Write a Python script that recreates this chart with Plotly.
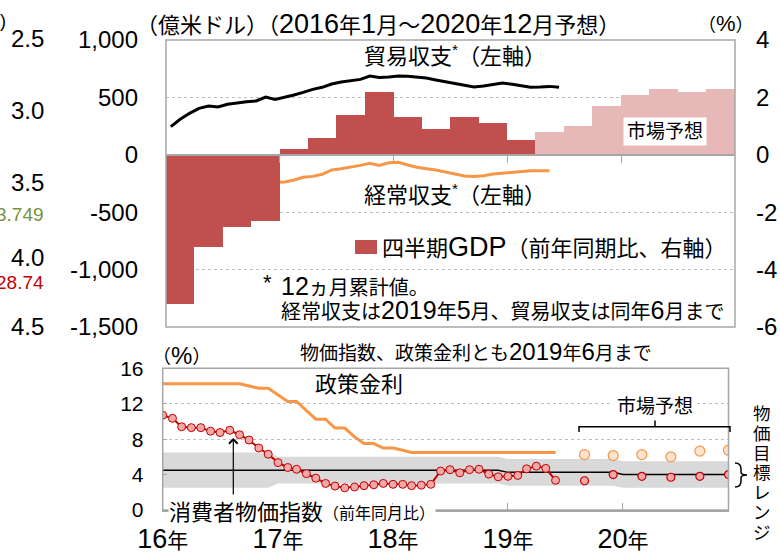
import re
import pandas as pd
import plotly.graph_objects as go

W, H = 780, 556

# ---------------- top panel data ----------------
trade_months = pd.date_range("2016-01-01", "2019-06-01", freq="MS")
trade_balance = [245, 309, 361, 405, 425, 416, 440, 454, 463, 469, 503, 483,
                 501, 521, 544, 570, 588, 617, 634, 646, 657, 686, 674, 677,
                 686, 684, 678, 669, 652, 637, 620, 602, 591, 599, 614, 625,
                 614, 599, 588, 591, 596, 588]
ca_months = pd.date_range("2016-01-01", "2019-05-01", freq="MS")
current_account = [-490, -431, -388, -336, -283, -272, -254, -240, -228, -217, -188, -240,
                   -237, -220, -196, -188, -170, -132, -121, -109, -92, -74, -92, -69,
                   -65, -89, -109, -121, -132, -150, -170, -185, -188, -182, -167, -159,
                   -150, -144, -138, -138, -138]
gdp_q_actual = pd.date_range("2016-01-01", "2019-01-01", freq="QS")
gdp_actual = [-5.2, -3.2, -2.5, -2.3, 0.2, 0.6, 1.4, 2.2, 1.3, 0.9, 1.3, 1.1, 0.5]
gdp_q_fcst = pd.date_range("2019-04-01", "2020-10-01", freq="QS")
gdp_fcst = [0.8, 1.0, 1.7, 2.1, 2.3, 2.2, 2.3]

left_ticks = [1000, 500, 0, -500, -1000, -1500]
left_labels = ["1,000", "500", "0", "-500", "-1,000", "-1,500"]
right_ticks = [4, 2, 0, -2, -4, -6]
right_labels = ["4", "2", "0", "-2", "-4", "-6"]
top_year_ticks = ["2017-01-01", "2018-01-01", "2019-01-01", "2020-01-01"]

# clipped labels of the neighbouring chart (left edge)
side_labels = ["2.5", "3.0", "3.5", "4.0", "4.5"]
side_marks = [("3.749", "#76923c"), ("28.74", "#c00000")]

# ---------------- bottom panel data ----------------
bot_months = pd.date_range("2016-01-01", "2019-06-01", freq="MS")
cpi = [10.7, 10.35, 9.4, 9.3, 9.3, 8.9, 8.75, 9.0, 8.5, 7.9, 7.0, 6.3,
       5.35, 4.8, 4.6, 4.1, 3.6, 3.0, 2.7, 2.5, 2.6, 2.75, 2.85, 3.0,
       2.9, 2.9, 2.75, 2.8, 2.9, 4.4, 4.55, 4.2, 4.55, 4.6, 4.05, 3.75,
       3.8, 3.9, 4.65, 4.95, 4.7, 3.35]
policy_rate = [14.25, 14.25, 14.25, 14.25, 14.25, 14.25, 14.25, 14.25, 14.25, 14.0, 13.75, 13.75,
               13.0, 12.25, 12.25, 11.25, 10.25, 10.25, 9.25, 9.25, 8.25, 7.5, 7.5, 7.0,
               7.0, 6.75, 6.5, 6.5, 6.5, 6.5, 6.5, 6.5, 6.5, 6.5, 6.5, 6.5,
               6.5, 6.5, 6.5, 6.5, 6.5, 6.5]
fcst_dates = ["2019-09-01", "2019-12-01", "2020-03-01", "2020-06-01", "2020-09-01", "2020-12-01"]
cpi_fcst = [3.3, 4.0, 3.8, 3.7, 3.8, 4.0]
rate_fcst = [6.25, 6.15, 6.25, 6.0, 6.65, 6.75]
target_dates = ["2016-01-01", "2016-12-01", "2017-01-01", "2018-12-01",
                "2019-01-01", "2019-12-01", "2020-01-01", "2020-12-01"]
target_upper = [6.5, 6.5, 6.0, 6.0, 5.75, 5.75, 5.5, 5.5]
target_lower = [2.5, 2.5, 3.0, 3.0, 2.75, 2.75, 2.5, 2.5]
target_center = [4.5, 4.5, 4.5, 4.5, 4.25, 4.25, 4.0, 4.0]
bot_year_ticks = ["2016-01-01", "2017-01-01", "2018-01-01", "2019-01-01", "2020-01-01"]
bot_year_nums = ["16", "17", "18", "19", "20"]
bot_y_ticks = [0, 4, 8, 12, 16]

# ---------------- styling ----------------
RED = "#c0504d"
PINK = "#e6b9b8"
ORANGE = "#f79646"
DARKRED = "#c00000"
GRAY = "#a6a6a6"
GRID = "#bfbfbf"
BAND = "#d9d9d9"
LAT = "Liberation Sans, Arial, sans-serif"
JP = "Liberation Sans, Noto Sans CJK JP, sans-serif"


def X(px):
    return px / W


def Y(py):
    return 1 - py / H


def mixed(s, latin):
    return re.sub(r"([0-9A-Za-z%.,]+)",
                  lambda m: f"<span style='font-size:{latin}px'>{m.group(1)}</span>", s)


top_dx = [X(166), X(735)]
top_dy = [Y(327), Y(40)]
bot_dx = [X(162.7), X(728.5)]
bot_dy = [Y(510), Y(368.3)]
left_range = [-1500, 1000]
zero_pos = top_dy[0] + (0 - left_range[0]) / (left_range[1] - left_range[0]) * (top_dy[1] - top_dy[0])

fig = go.Figure()

QUARTER_MS = 91.6 * 24 * 3600 * 1000
fig.add_trace(go.Bar(x=gdp_q_actual, y=gdp_actual, xaxis="x", yaxis="y2",
                     marker=dict(color=RED, line=dict(width=0)),
                     xperiod="M3", xperiodalignment="middle", width=QUARTER_MS))
fig.add_trace(go.Bar(x=gdp_q_fcst, y=gdp_fcst, xaxis="x", yaxis="y2",
                     marker=dict(color=PINK, line=dict(width=0)),
                     xperiod="M3", xperiodalignment="middle", width=QUARTER_MS))
fig.add_trace(go.Scatter(x=trade_months, y=trade_balance, xaxis="x", yaxis="y",
                         mode="lines", line=dict(color="black", width=3),
                         xperiod="M1", xperiodalignment="middle"))
fig.add_trace(go.Scatter(x=ca_months, y=current_account, xaxis="x", yaxis="y",
                         mode="lines", line=dict(color=ORANGE, width=3),
                         xperiod="M1", xperiodalignment="middle"))

# bottom panel
fig.add_trace(go.Scatter(x=target_dates, y=target_lower, xaxis="x2", yaxis="y3",
                         mode="lines", line=dict(width=0), hoverinfo="skip"))
fig.add_trace(go.Scatter(x=target_dates, y=target_upper, xaxis="x2", yaxis="y3",
                         mode="lines", line=dict(width=0), fill="tonexty",
                         fillcolor=BAND, hoverinfo="skip"))
fig.add_trace(go.Scatter(x=target_dates, y=target_center, xaxis="x2", yaxis="y3",
                         mode="lines", line=dict(color="black", width=1.5)))
fig.add_trace(go.Scatter(x=bot_months, y=policy_rate, xaxis="x2", yaxis="y3",
                         mode="lines", line=dict(color=ORANGE, width=3)))
fig.add_trace(go.Scatter(x=bot_months, y=cpi, xaxis="x2", yaxis="y3",
                         mode="lines+markers", line=dict(color=DARKRED, width=2),
                         marker=dict(size=8, color="#f4a7a7",
                                     line=dict(color=DARKRED, width=1))))
fig.add_trace(go.Scatter(x=fcst_dates, y=rate_fcst, xaxis="x2", yaxis="y3",
                         mode="markers",
                         marker=dict(size=10, color="#fde4cf",
                                     line=dict(color=ORANGE, width=1.2))))
fig.add_trace(go.Scatter(x=fcst_dates, y=cpi_fcst, xaxis="x2", yaxis="y3",
                         mode="markers",
                         marker=dict(size=8, color="#f4a7a7",
                                     line=dict(color=DARKRED, width=1.2))))

ann = []


def txt(s, x, y, size, color="black", xanchor="left", font=JP, bg=None, pad=1):
    a = dict(text=s, x=X(x), y=Y(y), xref="paper", yref="paper",
             xanchor=xanchor, yanchor="middle", showarrow=False,
             font=dict(family=font, size=size, color=color), borderpad=pad)
    if bg:
        a["bgcolor"] = bg
    ann.append(a)


# left clipped labels
for lab, py in zip(side_labels, [38, 110, 183, 257, 326]):
    txt(lab, 46, py, 24, xanchor="right", font=LAT)
for (lab, col), py in zip(side_marks, [214, 282]):
    txt(lab, 46, py, 19, color=col, xanchor="right", font=LAT)
txt(")", -2, 21, 18, font=LAT)

# top panel texts
txt(mixed("（億米ドル）（2016年1月～2020年12月予想）", 27), 134, 24, 22)
txt(mixed("（%）", 22), 755, 24, 18, xanchor="right", pad=0)
txt("貿易収支<sup>*</sup>（左軸）", 362, 55, 22)
txt("経常収支<sup>*</sup>（左軸）", 362, 194, 22)
txt(mixed("四半期GDP（前年同期比、右軸）", 27), 380, 247, 22)
txt("*", 261, 282, 22, font=LAT)
txt(mixed("12ヵ月累計値。", 25), 279, 286, 20)
txt(mixed("経常収支は2019年5月、貿易収支は同年6月まで", 25), 279, 310, 20)
txt("市場予想", 665, 132, 19, xanchor="center", bg="white", pad=3)

# bottom panel texts
txt(mixed("（%）", 24), 150, 355, 19)
txt(mixed("物価指数、政策金利とも2019年6月まで", 24), 298, 351, 19)
txt("政策金利", 313, 384, 22)
txt("消費者物価指数", 168, 512, 22, bg="white", pad=0)
txt("（前年同月比）", 322, 513, 16, bg="white", pad=0)
txt("市場予想", 655, 406, 19, xanchor="center", bg="white", pad=3)
for i, ch in enumerate("物価目標レンジ"):
    txt(ch, 762, 414 + i * 19.8, 17.5, xanchor="center", pad=0)

# arrow to the CPI line
ann.append(dict(text="", x=X(233.3), y=Y(438), xref="paper", yref="paper",
                ax=0, ay=58, showarrow=True, arrowhead=4, arrowsize=1.4,
                arrowwidth=1.2, arrowcolor="black"))

shapes = [
    dict(type="rect", xref="x domain", yref="y domain", x0=0, x1=1, y0=0, y1=1,
         line=dict(color=GRAY, width=1.5), layer="above"),
    dict(type="rect", xref="x2 domain", yref="y3 domain", x0=0, x1=1, y0=0, y1=1,
         line=dict(color=GRAY, width=1.5), layer="above"),
    dict(type="rect", xref="paper", yref="paper", x0=X(355), x1=X(377),
         y0=Y(254), y1=Y(240), fillcolor=RED, line=dict(width=0)),
    dict(type="path", xref="paper", yref="paper",
         path=(f"M {X(579)} {Y(432)} L {X(579)} {Y(426.7)} L {X(730)} {Y(426.7)} "
               f"L {X(730)} {Y(432)} M {X(655)} {Y(426.7)} L {X(655)} {Y(419)}"),
         line=dict(color="black", width=1.5)),
    dict(type="path", xref="paper", yref="paper",
         path=(f"M {X(735)} {Y(463)} Q {X(741)} {Y(463)} {X(741)} {Y(469)} "
               f"L {X(741)} {Y(472)} Q {X(741)} {Y(475)} {X(747)} {Y(475)} "
               f"Q {X(741)} {Y(475)} {X(741)} {Y(478)} L {X(741)} {Y(481)} "
               f"Q {X(741)} {Y(487)} {X(735)} {Y(487)}"),
         line=dict(color="black", width=1.5)),
]

fig.update_layout(
    width=W, height=H, margin=dict(l=0, r=0, t=0, b=0, pad=0, autoexpand=False),
    paper_bgcolor="white", plot_bgcolor="white",
    showlegend=False, barmode="overlay", bargap=0,
    annotations=ann, shapes=shapes,
    xaxis=dict(domain=top_dx, type="date", range=["2016-01-01", "2021-01-01"],
               anchor="free", position=zero_pos, showline=True, linecolor=GRAY,
               linewidth=1.5, ticks="outside", ticklen=7, tickcolor=GRAY,
               tickvals=top_year_ticks, showticklabels=False, showgrid=False,
               zeroline=False, automargin=False),
    yaxis=dict(domain=top_dy, range=left_range, anchor="free", position=top_dx[0],
               tickvals=left_ticks, ticktext=left_labels, ticks="",
               tickfont=dict(family=LAT, size=24, color="black"),
               ticklabelstandoff=28, showgrid=True, gridcolor=GRID, griddash="dot",
               gridwidth=1, zeroline=False, showline=False, automargin=False),
    yaxis2=dict(domain=top_dy, range=[-6, 4], overlaying="y", side="right",
                anchor="free", position=top_dx[1], tickvals=right_ticks,
                ticktext=right_labels, ticks="",
                tickfont=dict(family=LAT, size=24, color="black"),
                ticklabelstandoff=20, showgrid=False, zeroline=False, showline=False,
                automargin=False),
    xaxis2=dict(domain=bot_dx, anchor="y3", type="date",
                range=["2016-01-01", "2020-12-01"], tickvals=bot_year_ticks,
                ticktext=[n + "<span style='font-size:21px'>年</span>" for n in bot_year_nums],
                tickfont=dict(family=JP, size=27, color="black"),
                ticks="inside", ticklen=7, tickcolor=GRAY, showline=True,
                linecolor=GRAY, linewidth=1.5, showgrid=False, zeroline=False,
                ticklabelstandoff=4, automargin=False),
    yaxis3=dict(domain=bot_dy, anchor="x2", range=[0, 16], tickvals=bot_y_ticks,
                tickfont=dict(family=LAT, size=21, color="black"),
                ticks="inside", ticklen=4, tickcolor=GRAY, ticklabelstandoff=14,
                showgrid=True, gridcolor=GRID, griddash="dot", zeroline=False,
                showline=True, linecolor=GRAY, automargin=False),
)

fig.write_html("out.html", config={"displayModeBar": False},
               post_script="document.body.style.margin='0';")
